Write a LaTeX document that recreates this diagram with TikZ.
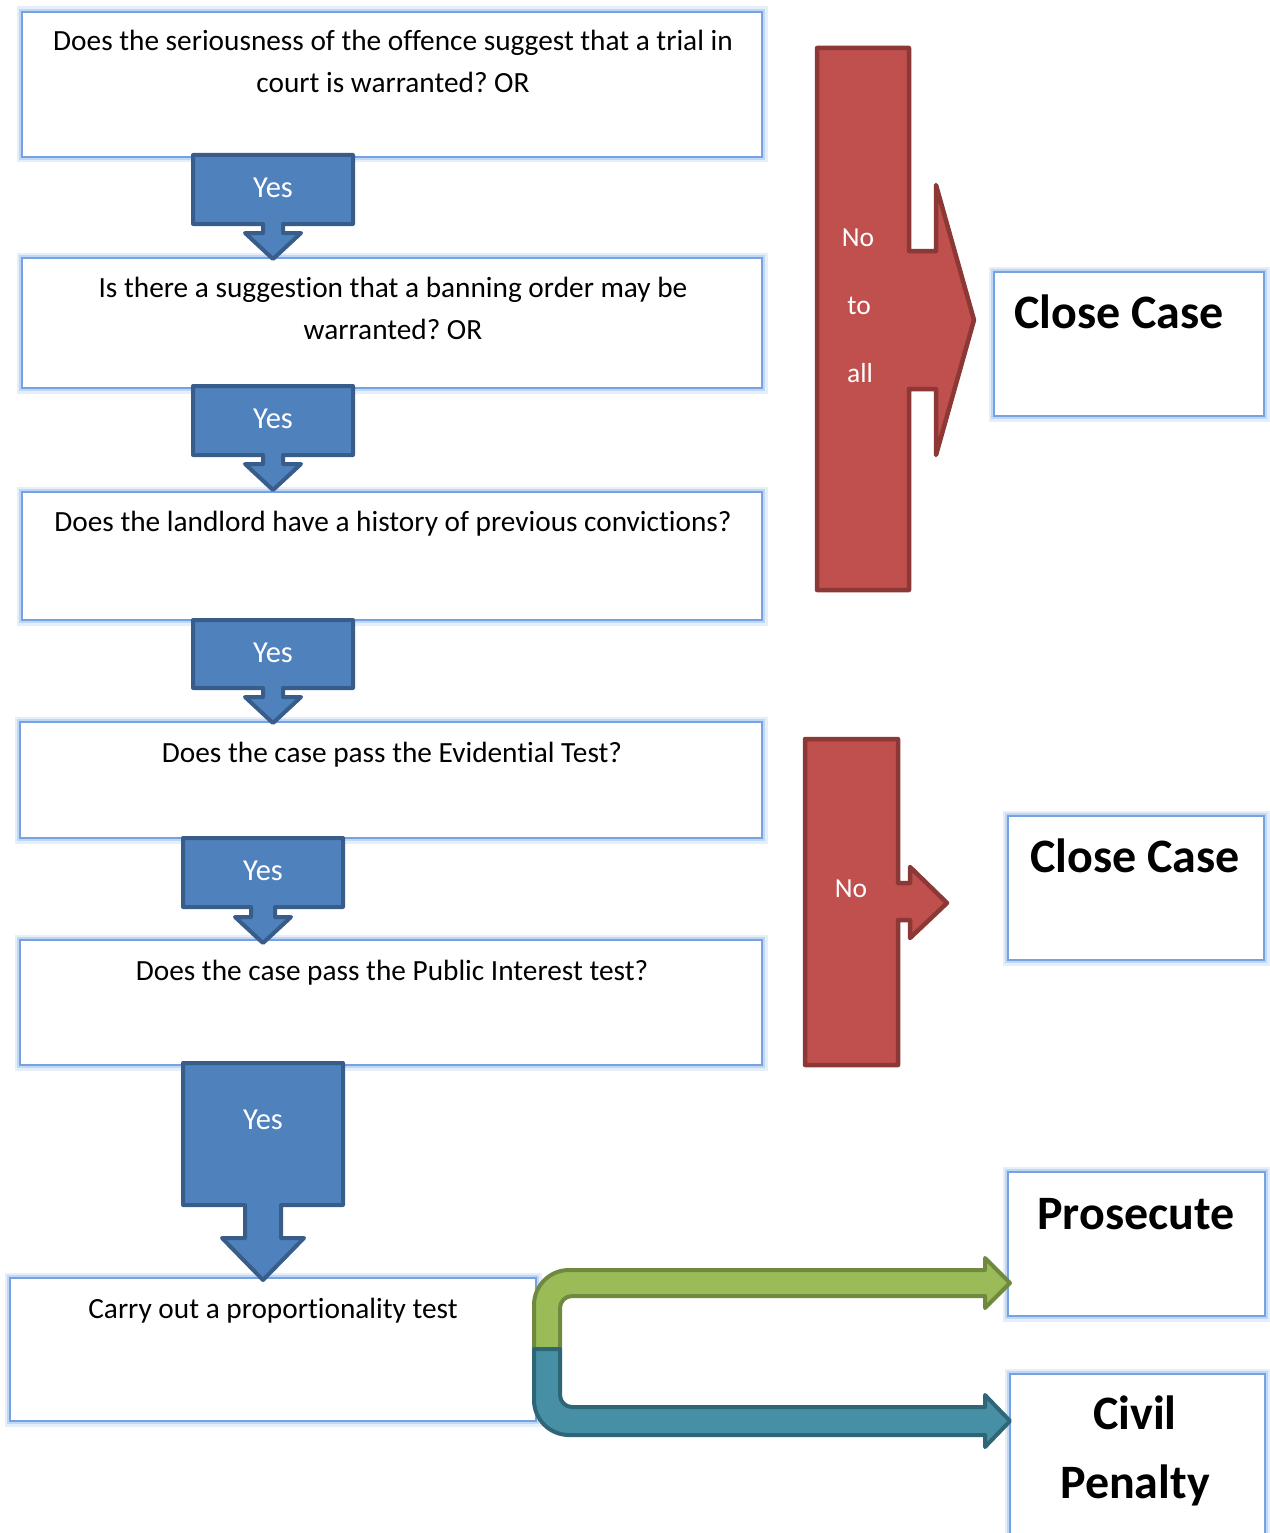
\documentclass[tikz,border=0pt]{standalone}
\usepackage{fontspec}
\setmainfont{Carlito}[Ligatures=NoCommon]
\frenchspacing
\definecolor{boxline}{HTML}{74A2E2}
\definecolor{glow}{HTML}{A9C8F2}
\definecolor{blueF}{HTML}{4F81BD}
\definecolor{blueD}{HTML}{385D8A}
\definecolor{redF}{HTML}{C0504D}
\definecolor{redD}{HTML}{8C3836}
\definecolor{greenF}{HTML}{9BBB59}
\definecolor{greenD}{HTML}{71893F}
\definecolor{tealF}{HTML}{468FA5}
\definecolor{tealD}{HTML}{2F6677}
\newcommand\downcallout[9]{%
  \draw[#1] (#2,#4) -- (#3,#4) -- (#3,#5) -- ({(#2+#3)/2+#6},#5) -- ({(#2+#3)/2+#6},#8)
    -- ({(#2+#3)/2+#7},#8) -- ({(#2+#3)/2},#9) -- ({(#2+#3)/2-#7},#8)
    -- ({(#2+#3)/2-#6},#8) -- ({(#2+#3)/2-#6},#5) -- (#2,#5) -- cycle;}
\begin{document}
\begin{tikzpicture}[x=1pt,y=-1pt,
  qbox/.style={draw=boxline, line width=1.8pt, fill=white, inner sep=0pt, outer sep=0pt,
    preaction={draw=glow, line width=11pt, opacity=0.3},
    preaction={draw=glow, line width=6pt, opacity=0.6}},
  qtext/.style={anchor=base, align=center, inner sep=0pt,
    font=\fontsize{29.3}{42}\selectfont},
  bigtext/.style={anchor=base, align=center, inner sep=0pt,
    font=\bfseries\fontsize{48}{69}\selectfont},
  yesshape/.style={fill=blueF, draw=blueD, line width=4pt, line join=round},
  noshape/.style={fill=redF, draw=redD, line width=4.5pt, line join=round},
  yestext/.style={anchor=base, inner sep=0pt, text=white, font=\fontsize{30.5}{36}\selectfont},
  notext/.style={anchor=base, inner sep=0pt, text=white, font=\fontsize{27.5}{34}\selectfont},
  greenshape/.style={fill=greenF, draw=greenD, line width=4pt, line join=round},
  tealshape/.style={fill=tealF, draw=tealD, line width=4pt, line join=round},
]
\useasboundingbox (0,0) rectangle (1269,1533);

% question boxes
\node[qbox, minimum width=740pt, minimum height=145pt] (b1) at (392,84.5) {};
\node[qbox, minimum width=740pt, minimum height=130pt] (b2) at (392,323) {};
\node[qbox, minimum width=740pt, minimum height=128pt] (b3) at (392,556) {};
\node[qbox, minimum width=742pt, minimum height=116pt] (b4) at (391,780) {};
\node[qbox, minimum width=742pt, minimum height=125pt] (b5) at (391,1002.5) {};
\node[qbox, minimum width=526pt, minimum height=143pt] (b6) at (273,1349.5) {};

% outcome boxes
\node[qbox, minimum width=270pt, minimum height=144pt] (c1) at (1129,344) {};
\node[qbox, minimum width=256pt, minimum height=144pt] (c2) at (1136,888) {};
\node[qbox, minimum width=257pt, minimum height=144pt] (pros) at (1136.5,1244) {};
\node[qbox, minimum width=255pt, minimum height=174pt] (civ) at (1137.5,1461) {};

% box texts (anchor = baseline of last line)
\node[qtext] (t1) at (393,93) {Does the seriousness of the offence suggest that a trial in\\court is warranted? OR};
\node[qtext] (t2) at (393,339) {Is there a suggestion that a banning order may be\\warranted? OR};
\node[qtext] (t3) at (393,531) {Does the landlord have a history of previous convictions?};
\node[qtext] (t4) at (392,762) {Does the case pass the Evidential Test?};
\node[qtext] (t5) at (392,980) {Does the case pass the Public Interest test?};
\node[qtext] (t6) at (273,1318) {Carry out a proportionality test};

\node[bigtext] (tc1) at (1119,328) {Close Case};
\node[bigtext] (tc2) at (1135,872) {Close Case};
\node[bigtext] (tp) at (1136,1229) {Prosecute};
\node[bigtext] (tcp) at (1135,1498) {Civil\\Penalty};

% Yes arrows
\downcallout{yesshape}{193}{353}{155}{224}{10}{28}{233}{259}
\downcallout{yesshape}{193}{353}{386}{455}{10}{28}{464}{490}
\downcallout{yesshape}{193}{353}{620}{688}{10}{28}{697}{723}
\downcallout{yesshape}{183}{343}{838}{907}{12}{28}{917}{943}
\downcallout{yesshape}{183}{343}{1063}{1205}{18}{41}{1238}{1280}
\node[yestext] (y1) at (273,197) {Yes};
\node[yestext] (y2) at (273,428) {Yes};
\node[yestext] (y3) at (273,662) {Yes};
\node[yestext] (y4) at (263,880) {Yes};
\node[yestext] (y5) at (263,1129) {Yes};

% No arrows
\draw[noshape] (817,48) -- (909,48) -- (909,251) -- (936,251) -- (936,185) -- (974,320)
  -- (936,455) -- (936,389) -- (909,389) -- (909,590) -- (817,590) -- cycle;
\node[notext] (n1) at (858,246) {No};
\node[notext] (n2) at (859,314) {to};
\node[notext] (n3) at (860,382) {all};

\draw[noshape] (805,739) -- (898,739) -- (898,883) -- (910,883) -- (910,867) -- (947,903)
  -- (910,938) -- (910,920) -- (898,920) -- (898,1065) -- (805,1065) -- cycle;
\node[notext] (n4) at (851,897) {No};

% bent arrows to Prosecute and Civil Penalty
\coordinate (split) at (547,1349);
\draw[greenshape] (534,1349) -- (534,1305) .. controls (534,1285.7) and (549.7,1270) .. (569,1270)
  -- (985,1270) -- (985,1258) -- (1010,1283) -- (985,1308) -- (985,1296)
  -- (572,1296) .. controls (565.4,1296) and (560,1301.4) .. (560,1308) -- (560,1349) -- cycle;
\draw[tealshape] (534,1349) -- (534,1400) .. controls (534,1419.3) and (549.7,1435) .. (569,1435)
  -- (985,1435) -- (985,1447) -- (1010,1421) -- (985,1395) -- (985,1407)
  -- (572,1407) .. controls (565.4,1407) and (560,1401.6) .. (560,1395) -- (560,1349) -- cycle;
\end{tikzpicture}
\end{document}
